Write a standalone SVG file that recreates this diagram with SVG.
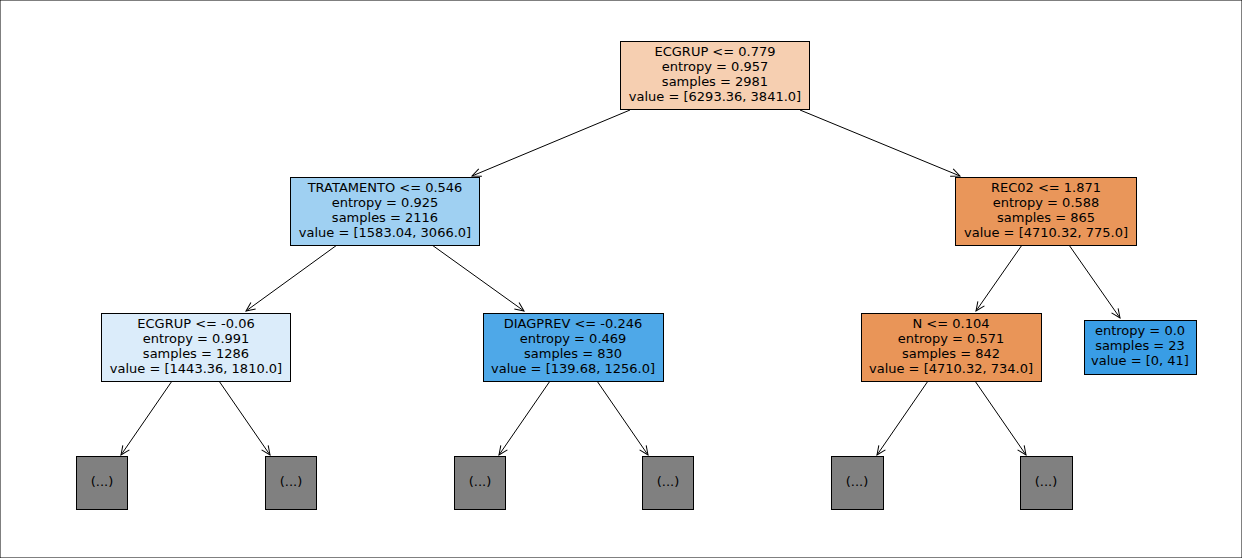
<svg xmlns="http://www.w3.org/2000/svg" width="1242" height="558" viewBox="0 0 1242 558">
<style>
text{font-family:"DejaVu Sans",sans-serif;font-size:13px;text-anchor:middle;fill:#000}
rect{stroke:#000;stroke-width:1}
.e{stroke:#000;stroke-width:1;fill:none;marker-end:url(#a)}
.g{fill:#808080}
</style>
<defs><marker id="a" markerWidth="12" markerHeight="12" refX="10" refY="5" orient="auto" markerUnits="userSpaceOnUse"><path d="M1,1 L10,5 L1,9" fill="none" stroke="#000"/></marker></defs>
<rect width="1242" height="558" fill="#fff" stroke="none"/>
<g id="edges">
<line class="e" x1="630" y1="110" x2="472" y2="176"/>
<line class="e" x1="800" y1="110" x2="960" y2="176"/>
<line class="e" x1="337" y1="245" x2="246" y2="311"/>
<line class="e" x1="432" y1="245" x2="524" y2="311"/>
<line class="e" x1="1022" y1="245" x2="976" y2="311"/>
<line class="e" x1="1069" y1="245" x2="1120" y2="318"/>
<line class="e" x1="172" y1="381" x2="121" y2="455"/>
<line class="e" x1="219" y1="381" x2="270" y2="455"/>
<line class="e" x1="550" y1="381" x2="499" y2="455"/>
<line class="e" x1="597" y1="381" x2="648" y2="455"/>
<line class="e" x1="928" y1="381" x2="877" y2="455"/>
<line class="e" x1="975" y1="381" x2="1026" y2="455"/>
</g>
<g id="n0"><rect x="620.5" y="41.5" width="189" height="68" fill="#f6cfb1"/>
<text x="715" y="56">ECGRUP &lt;= 0.779</text><text x="715" y="71">entropy = 0.957</text><text x="715" y="86">samples = 2981</text><text x="715" y="101">value = [6293.36, 3841.0]</text></g>
<g id="n1"><rect x="290.5" y="177.5" width="189" height="68" fill="#9fd0f2"/>
<text x="385" y="192">TRATAMENTO &lt;= 0.546</text><text x="385" y="207">entropy = 0.925</text><text x="385" y="222">samples = 2116</text><text x="385" y="237">value = [1583.04, 3066.0]</text></g>
<g id="n2"><rect x="955.5" y="177.5" width="181" height="68" fill="#e9965a"/>
<text x="1046" y="192">REC02 &lt;= 1.871</text><text x="1046" y="207">entropy = 0.588</text><text x="1046" y="222">samples = 865</text><text x="1046" y="237">value = [4710.32, 775.0]</text></g>
<g id="n3"><rect x="101.5" y="313.5" width="189" height="68" fill="#dbecfa"/>
<text x="196" y="328">ECGRUP &lt;= -0.06</text><text x="196" y="343">entropy = 0.991</text><text x="196" y="358">samples = 1286</text><text x="196" y="373">value = [1443.36, 1810.0]</text></g>
<g id="n4"><rect x="483.5" y="313.5" width="180" height="68" fill="#4ea8e8"/>
<text x="573" y="328">DIAGPREV &lt;= -0.246</text><text x="573" y="343">entropy = 0.469</text><text x="573" y="358">samples = 830</text><text x="573" y="373">value = [139.68, 1256.0]</text></g>
<g id="n5"><rect x="861.5" y="313.5" width="180" height="68" fill="#e99558"/>
<text x="951" y="328">N &lt;= 0.104</text><text x="951" y="343">entropy = 0.571</text><text x="951" y="358">samples = 842</text><text x="951" y="373">value = [4710.32, 734.0]</text></g>
<g id="n6"><rect x="1084.5" y="320.5" width="112" height="54" fill="#399de5"/>
<text x="1140" y="335">entropy = 0.0</text><text x="1140" y="350">samples = 23</text><text x="1140" y="365">value = [0, 41]</text></g>
<g id="l1"><rect class="g" x="76.5" y="456.5" width="51" height="53"/><text x="102" y="486">(...)</text></g>
<g id="l2"><rect class="g" x="265.5" y="456.5" width="51" height="53"/><text x="291" y="486">(...)</text></g>
<g id="l3"><rect class="g" x="454.5" y="456.5" width="51" height="53"/><text x="480" y="486">(...)</text></g>
<g id="l4"><rect class="g" x="642.5" y="456.5" width="51" height="53"/><text x="668" y="486">(...)</text></g>
<g id="l5"><rect class="g" x="831.5" y="456.5" width="52" height="53"/><text x="857" y="486">(...)</text></g>
<g id="l6"><rect class="g" x="1020.5" y="456.5" width="52" height="53"/><text x="1046" y="486">(...)</text></g>
</svg>
